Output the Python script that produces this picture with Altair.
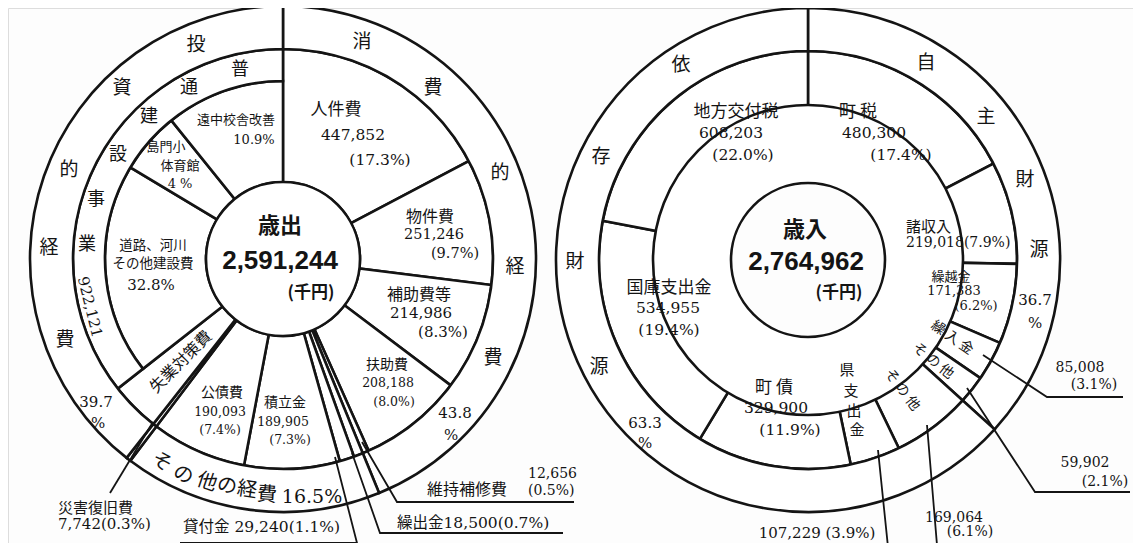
import altair as alt
import pandas as pd

# ===================== data =====================
exp_title = "歳出"
exp_total = 2591244
exp_names = ["人件費", "物件費", "補助費等", "扶助費", "維持補修費", "繰出金", "貸付金",
             "積立金", "公債費", "災害復旧費", "失業対策費", "道路、河川その他建設費",
             "島門小体育館", "遠中校舎改善"]
exp_values = [447852, 251246, 214986, 208188, 12656, 18500, 29240,
              189905, 190093, 7742, 98715, 497021, 145300, 279800]
exp_pcts = [17.3, 9.7, 8.3, 8.0, 0.5, 0.7, 1.1, 7.3, 7.4, 0.3, 3.8, 32.8, 4, 10.9]
exp_group = ["消費的経費"] * 5 + ["その他の経費"] * 4 + ["投資的経費"] * 5
exp_sub = [""] * 11 + ["普通建設事業"] * 3
exp_group_names = ["消費的経費", "その他の経費", "投資的経費"]
exp_group_pcts = [43.8, 16.5, 39.7]
exp_sub_name = "普通建設事業"
exp_sub_total = 922121

rev_title = "歳入"
rev_total = 2764962
rev_names = ["町税", "諸収入", "繰越金", "繰入金", "その他", "その他", "県支出金",
             "町債", "国庫支出金", "地方交付税"]
rev_values = [480300, 219018, 171383, 85008, 59902, 169064, 107229,
              329900, 534955, 608203]
rev_pcts = [17.4, 7.9, 6.2, 3.1, 2.1, 6.1, 3.9, 11.9, 19.4, 22.0]
rev_group = ["自主財源"] * 5 + ["依存財源"] * 5
rev_group_names = ["自主財源", "依存財源"]
rev_group_pcts = [36.7, 63.3]
unit = "(千円)"

# ===================== layout =====================
W, H = 1125, 535
LC = (283, 259)
LR = dict(r0=77, r1=178, r2=210, r3=253)
RC = (808, 260)
RR = dict(r0=78, r1=209, r2=209, r3=252)

xs = alt.Scale(domain=[8, 8 + W], range=[0, W], nice=False, zero=False)
ys = alt.Scale(domain=[8, 8 + H], range=[0, H], nice=False, zero=False)
X = alt.X("x:Q", scale=xs, axis=None)
Y = alt.Y("y:Q", scale=ys, axis=None)

rows = []
for i, (n, v, g, s) in enumerate(zip(exp_names, exp_values, exp_group, exp_sub)):
    rows.append(dict(pie="L", order=i, name=n, value=v,
                     outer=(n if n == "災害復旧費" else g), mid=(s or n),
                     x=LC[0], y=LC[1], r0=LR["r0"], r1=LR["r1"], r2=LR["r2"], r3=LR["r3"],
                     ro=(LR["r1"] if s else LR["r2"])))
for i, (n, v, g) in enumerate(zip(rev_names, rev_values, rev_group)):
    rows.append(dict(pie="R", order=i, name=n + str(i), value=v, outer=g, mid=n + str(i),
                     x=RC[0], y=RC[1], r0=RR["r0"], r1=RR["r1"], r2=RR["r2"], r3=RR["r3"],
                     ro=RR["r2"]))
leaves = pd.DataFrame(rows)


def with_angles(ch):
    return (ch.transform_joinaggregate(total="sum(value)", groupby=["pie"])
            .transform_window(cum="sum(value)", sort=[alt.SortField("order")],
                              groupby=["pie"], frame=[None, 0])
            .transform_calculate(t0="2*PI*(datum.cum-datum.value)/datum.total",
                                 t1="2*PI*datum.cum/datum.total"))


LINE = "#141414"
SW = 2.6


def arc_mark():
    return dict(fill="white", stroke=LINE, strokeWidth=SW)


def arc_enc(ri, ro):
    return dict(x=X, y=Y,
                theta=alt.Theta("t0:Q", scale=None, stack=None),
                theta2=alt.Theta2("t1:Q"),
                radius=alt.Radius(f"{ro}:Q", scale=None),
                radius2=alt.Radius2(f"{ri}:Q"))


leaf_layer = with_angles(alt.Chart(leaves).mark_arc(**arc_mark())).encode(**arc_enc("r0", "ro"))

outer_layer = with_angles(
    alt.Chart(leaves).transform_aggregate(
        value="sum(value)", order="min(order)",
        groupby=["pie", "outer", "x", "y", "r2", "r3"])
    .mark_arc(**arc_mark())).encode(**arc_enc("r2", "r3"))

mid_layer = with_angles(
    alt.Chart(leaves).transform_aggregate(
        value="sum(value)", order="min(order)",
        groupby=["pie", "mid", "x", "y", "r1", "r2"])
    ).transform_filter(alt.datum.mid == exp_sub_name).mark_arc(**arc_mark()).encode(**arc_enc("r1", "r2"))

centers = pd.DataFrame([dict(x=LC[0], y=LC[1], r=LR["r0"]), dict(x=RC[0], y=RC[1], r=RR["r0"])])
center_layer = alt.Chart(centers).mark_arc(theta=0, theta2=6.2832, **arc_mark()).encode(
    x=X, y=Y, radius=alt.Radius("r:Q", scale=None))

# ===================== leader lines (annotation positions) =====================
leaders = {
    "saigai": [(153, 422), (110, 493)],
    "kashitsuke": [(335, 457), (357, 543), (180, 543)],
    "kuridashi": [(352, 453), (380, 533), (563, 533)],
    "iji": [(362, 442), (397, 502), (574, 502)],
    "kuriire": [(983, 355), (1047, 397), (1123, 397)],
    "sonota1": [(967, 388), (1035, 492), (1130, 492)],
    "sonota2": [(927, 425), (937, 545), (1030, 545)],
    "ken": [(878, 450), (888, 547), (740, 547)],
}
lrows = []
for k, pts in leaders.items():
    for j, (px, py) in enumerate(pts):
        lrows.append(dict(id=k, seq=j, x=px, y=py))
leader_layer = alt.Chart(pd.DataFrame(lrows)).mark_line(color=LINE, strokeWidth=1.8).encode(
    x=X, y=Y, detail="id:N", order="seq:Q")

# ===================== text =====================
E = {n: (v, p) for n, v, p in zip(exp_names, exp_values, exp_pcts)}
RV = rev_values
RP = rev_pcts


def m(v):
    return f"{v:,}"


def pp(p):
    return f"({p:.1f}%)"


T = []


def add(t, x, y, s, style="jp", a=0, align="center"):
    T.append(dict(t=t, x=x, y=y, s=s, st=style, a=a, al=align))


# ---- left pie
add("人件費", 336, 110, 17); add(m(E["人件費"][0]), 353, 135, 15.5, "num"); add(pp(E["人件費"][1]), 380, 160, 15.5, "num")
add("物件費", 430, 217, 16); add(m(E["物件費"][0]), 434, 235, 14.5, "num"); add(pp(E["物件費"][1]), 455, 254, 14.5, "num")
add("補助費等", 419, 295, 16); add(m(E["補助費等"][0]), 421, 313, 15, "num"); add(pp(E["補助費等"][1]), 443, 332, 15, "num")
add("扶助費", 387, 365, 14); add(m(E["扶助費"][0]), 388, 383, 12.5, "num"); add(pp(E["扶助費"][1]), 394, 402, 12.5, "num")
add("積立金", 285, 403, 14); add(m(E["積立金"][0]), 283, 422, 12.5, "num"); add(pp(E["積立金"][1]), 290, 440, 12.5, "num")
add("公債費", 222, 393, 14); add(m(E["公債費"][0]), 220, 412, 12.5, "num"); add(pp(E["公債費"][1]), 220, 430, 12.5, "num")
add("失業対策費", 181, 362, 16, "jp", 315)
add("道路、河川", 153, 246, 13.5); add("その他建設費", 153, 264, 13.5); add(f"{E['道路、河川その他建設費'][1]}%", 151, 285, 15, "num")
add("島門小", 166, 147, 13); add("体育館", 180, 166, 13); add(f"{E['島門小体育館'][1]} %", 180, 184, 13, "num")
add("遠中校舎改善", 236, 120, 13); add(f"{E['遠中校舎改善'][1]}%", 254, 140, 13, "num")
for ch, (px, py) in zip(exp_sub_name, [(240, 70), (189, 88), (149, 117), (118, 155), (96, 200), (87, 245)]):
    add(ch, px, py, 18)
add(m(exp_sub_total), 90, 307, 15, "num", 76)
for ch, (px, py) in zip(exp_group_names[2], [(196, 45), (122, 88), (69, 170), (49, 248), (65, 340)]):
    add(ch, px, py, 19)
add(f"{exp_group_pcts[2]}", 96, 402, 15, "num"); add("%", 98, 423, 15, "num")
for ch, (px, py) in zip(exp_group_names[0], [(362, 42), (433, 88), (500, 173), (515, 267), (493, 358)]):
    add(ch, px, py, 19)
add(f"{exp_group_pcts[0]}", 455, 413, 15, "num"); add("%", 451, 435, 15, "num")
for ch, (px, py), a in zip(exp_group_names[1],
                           [(162, 462), (183, 475), (207, 482), (227, 486), (247, 490), (267, 495)],
                           [31, 25, 19, 14, 9, 4]):
    add(ch, px, py, 20, "jp", a)
add(f"{exp_group_pcts[1]}%", 312, 497, 19, "num")
add(exp_title, 280, 226, 22, "bold"); add(m(exp_total), 280, 261, 26, "boldnum"); add(unit, 311, 293, 17, "bold")
add("災害復旧費", 58, 508, 15, "jp", 0, "left"); add(f"{m(E['災害復旧費'][0])}{pp(E['災害復旧費'][1])}", 58, 524, 15, "num", 0, "left")
add(f"貸付金 {m(E['貸付金'][0])}{pp(E['貸付金'][1])}", 183, 527, 15.5, "num", 0, "left")
add(f"繰出金{m(E['繰出金'][0])}{pp(E['繰出金'][1])}", 397, 523, 15.5, "num", 0, "left")
add("維持補修費", 427, 490, 16, "jp", 0, "left")
add(m(E["維持補修費"][0]), 528, 474, 14, "num", 0, "left"); add(pp(E["維持補修費"][1]), 528, 491, 14, "num", 0, "left")

# ---- right pie
add("地方交付税", 736, 112, 17); add(m(RV[9]), 731, 133, 15.5, "num"); add(pp(RP[9]), 743, 155, 15.5, "num")
add("町 税", 858, 112, 17); add(m(RV[0]), 874, 133, 15.5, "num"); add(pp(RP[0]), 901, 155, 15.5, "num")
for ch, (px, py) in zip(rev_group_names[0], [(926, 63), (986, 117), (1025, 180), (1039, 250)]):
    add(ch, px, py, 19)
add(f"{rev_group_pcts[0]}", 1035, 300, 15, "num"); add("%", 1035, 323, 15, "num")
for ch, (px, py) in zip(rev_group_names[1], [(681, 65), (601, 157), (575, 262), (599, 367)]):
    add(ch, px, py, 19)
add(f"{rev_group_pcts[1]}", 645, 423, 15, "num"); add("%", 645, 443, 15, "num")
add("諸収入", 906, 227, 15, "jp", 0, "left"); add(f"{m(RV[1])}{pp(RP[1])}", 906, 243, 14, "num", 0, "left")
add("繰越金", 951, 277, 13); add(m(RV[2]), 954, 291, 13, "num"); add(pp(RP[2]), 976, 306, 13, "num")
add(rev_title, 805, 230, 22, "bold"); add(m(rev_total), 806, 262, 26, "boldnum"); add(unit, 839, 293, 17, "bold")
add("繰 入 金", 952, 338, 14, "jp", 35)
add("そ の 他", 933, 361, 14, "jp", 39)
add("そ の 他", 902, 390, 14, "jp", 53)
for ch, (px, py) in zip(rev_names[6], [(847, 370), (851, 391), (854, 411), (857, 430)]):
    add(ch, px, py, 15)
add("町 債", 774, 388, 17); add(m(RV[7]), 776, 408, 15.5, "num"); add(pp(RP[7]), 790, 430, 15.5, "num")
add("国庫支出金", 669, 288, 17); add(m(RV[8]), 668, 308, 15.5, "num"); add(pp(RP[8]), 669, 330, 15.5, "num")
add(m(RV[3]), 1080, 368, 14, "num"); add(pp(RP[3]), 1094, 385, 14, "num")
add(m(RV[4]), 1085, 463, 14, "num"); add(pp(RP[4]), 1105, 482, 14, "num")
add(m(RV[5]), 954, 518, 14, "num"); add(pp(RP[5]), 970, 532, 14, "num")
add(f"{m(RV[6])} {pp(RP[6])}", 817, 533, 15, "num")

tdf = pd.DataFrame(T)
FONTS = {
    "jp": ("Noto Sans CJK JP", "normal"),
    "num": ("DejaVu Serif, Noto Sans CJK JP", "normal"),
    "bold": ("Noto Sans CJK JP", "bold"),
    "boldnum": ("Liberation Sans, Noto Sans CJK JP", "bold"),
}
text_layers = []
for st, (font, weight) in FONTS.items():
    for al in ["center", "left"]:
        sub = tdf[(tdf.st == st) & (tdf.al == al)]
        if len(sub) == 0:
            continue
        text_layers.append(
            alt.Chart(sub).mark_text(font=font, fontWeight=weight, align=al,
                                     baseline="middle", color="#141414").encode(
                x=X, y=Y, text="t:N",
                size=alt.Size("s:Q", scale=None),
                angle=alt.Angle("a:Q", scale=None)))

chart = alt.layer(leaf_layer, mid_layer, outer_layer, center_layer, leader_layer, *text_layers).properties(
    width=W, height=H, padding=0, autosize=alt.AutoSizeParams(type="none")
).configure_view(stroke=None).configure(background="#fdfdfd")

chart.save("out.html", embed_options={"renderer": "svg", "actions": False})
